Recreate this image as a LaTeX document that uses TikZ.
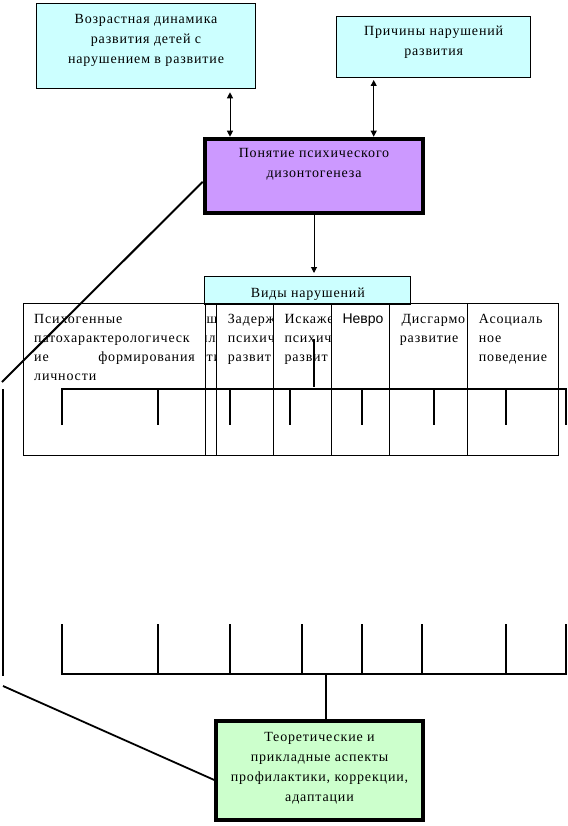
\documentclass[tikz,border=0pt]{standalone}
\usepackage{fontspec}
\setmainfont{Liberation Serif}[LetterSpace=6]
\newfontfamily\sansfont{Liberation Sans}
\usepackage{tikz}
\usetikzlibrary{arrows.meta,positioning}

\definecolor{cyanbox}{HTML}{CCFFFF}
\definecolor{lilacbox}{HTML}{CC99FF}
\definecolor{greenbox}{HTML}{CCFFCC}

\tikzset{
    box/.style={draw, line width=1pt, inner sep=0pt, anchor=north west},
    heavybox/.style={draw, line width=4pt, inner sep=0pt, anchor=north west},
    cell/.style={draw, line width=1pt, inner sep=0pt, outer sep=0pt, anchor=north west, minimum height=152},
    txt/.style={align=center, anchor=north, inner sep=0pt},
    ln/.style={anchor=base west, inner sep=0pt},
    bus/.style={line width=2.3pt},
    link/.style={line width=1pt},
    tip/.style={-{Triangle[length=6pt,width=6pt]}},
    tips/.style={{Triangle[length=6pt,width=6pt]}-{Triangle[length=6pt,width=6pt]}}
}

\begin{document}
\begin{tikzpicture}[x=1pt, y=-1pt, font=\fontsize{14}{20}\selectfont]
    \useasboundingbox (0,0) rectangle (567,826);

    % Boxes at the top
    \node[box, fill=cyanbox, minimum width=219, minimum height=85.3] (dynamics) at (36,3) {};
    \node[txt, below=11pt of dynamics.north] (dynamicstxt) {Возрастная динамика\\развития детей с\\нарушением в развитие};
    \node[box, fill=cyanbox, minimum width=194.3, minimum height=61.3] (causes) at (336,16) {};
    \node[txt, below=10pt of causes.north] (causestxt) {Причины нарушений\\развития};

    % Central concept
    \node[heavybox, fill=lilacbox, minimum width=218.6, minimum height=74.3] (concept) at (202.7,136.7) {};
    \node[txt, below=11.6pt of concept.north] (concepttxt) {Понятие психического\\дизонтогенеза};

    % Arrows to the central concept
    \coordinate (linkA) at (230,0);
    \coordinate (linkB) at (373.7,0);
    \draw[link, tips, shorten <=3pt] (dynamics.south -| linkA) -- (concept.north -| linkA);
    \draw[link, tips, shorten <=1.7pt] (causes.south -| linkB) -- (concept.north -| linkB);

    % Types of disorders
    \node[box, fill=cyanbox, minimum width=206, minimum height=28.1] (types) at (204.3,275.7) {};
    \node[txt, below=12pt of types.north] (typestxt) {Виды нарушений};
    \draw[link, tip, shorten >=2.7pt] (concept.south) -- (concept.south |- types.north);

    % Table cells
    \node[cell, minimum width=181.5] (psycho) at (23.8,303.8) {};
    \node[cell, minimum width=11] (narrow) at (psycho.north east) {};
    \node[cell, minimum width=57.2] (delay) at (narrow.north east) {};
    \node[cell, minimum width=58.2] (distort) at (delay.north east) {};
    \node[cell, minimum width=57.6] (neurosis) at (distort.north east) {};
    \node[cell, minimum width=78] (disharmony) at (neurosis.north east) {};
    \node[cell, minimum width=90.9] (asocial) at (disharmony.north east) {};

    % Texts of the cells
    \node[ln] (psychoA) at (34,323.5) {Психогенные};
    \node[ln] (psychoB) at (34,342.5) {патохарактерологическ};
    \node[ln] (psychoC) at (34,361.5) {ие};
    \node[ln, anchor=base east] (psychoD) at (195,361.5) {формирования};
    \node[ln] (psychoE) at (34,380.5) {личности};
    \begin{scope}
        \clip (narrow.north west) rectangle (narrow.south east);
        \node[ln] (narrowA) at (206.5,323.5) {ш};
        \node[ln] (narrowB) at (200,342.5) {ил};
        \node[ln] (narrowC) at (206.5,361.5) {ти};
    \end{scope}
    \begin{scope}
        \clip (delay.north west) rectangle (delay.south east);
        \node[ln] (delayA) at (227.7,323.5) {Задерж};
        \node[ln] (delayB) at (227.7,342.5) {психич};
        \node[ln] (delayC) at (227.7,361.5) {развит};
    \end{scope}
    \begin{scope}
        \clip (distort.north west) rectangle (distort.south east);
        \node[ln] (distortA) at (284.3,323.5) {Искаже};
        \node[ln] (distortB) at (284.3,342.5) {психич};
        \node[ln] (distortC) at (284.3,361.5) {развит};
    \end{scope}
    \begin{scope}
        \clip (neurosis.north west) rectangle (neurosis.south east);
        \node[ln, font=\sansfont\fontsize{14}{20}\selectfont] (neurosisA) at (342.3,323.5) {Невро};
    \end{scope}
    \begin{scope}
        \clip (disharmony.north west) rectangle (disharmony.south east);
        \node[ln] (disharmonyA) at (401.3,323.5) {Дисгармо};
        \node[ln] (disharmonyB) at (399.7,342.5) {развитие};
    \end{scope}
    \node[ln] (asocialA) at (478.7,323.5) {Асоциаль};
    \node[ln] (asocialB) at (478.7,342.5) {ное};
    \node[ln] (asocialC) at (478.7,361.5) {поведение};

    % Upper comb
    \draw[bus] (62,425) -- (62,389) -- (567,389);
    \draw[bus] (158,389) -- (158,425) (230,389) -- (230,425) (290,389) -- (290,425)
        (362,389) -- (362,425) (434,389) -- (434,425) (506,389) -- (506,425) (566,389) -- (566,425);
    \draw[line width=2pt] (314,339) -- (314,387);

    % Lower comb
    \draw[bus] (62,624) -- (62,674) -- (567,674);
    \draw[bus] (158,624) -- (158,674) (230,624) -- (230,674) (302,624) -- (302,674)
        (362,624) -- (362,674) (422,624) -- (422,674) (506,624) -- (506,674) (566,624) -- (566,674);

    % Aspects box
    \node[heavybox, fill=greenbox, minimum width=206.4, minimum height=98.4] (aspects) at (214.3,719.3) {};
    \node[txt, below=12.4pt of aspects.north] (aspectstxt) {Теоретические и\\прикладные аспекты\\профилактики, коррекции,\\адаптации};
    \coordinate (hub) at (326,674);
    \draw[line width=2pt] (hub) -- (hub |- aspects.north);

    % Lines on the left side
    \coordinate (sideTop) at (2,382);
    \coordinate (sideA) at (3,389);
    \coordinate (sideB) at (3,676);
    \coordinate (sideBot) at (3,686);
    \draw[line width=2pt] ([yshift=-6pt]concept.west) -- (sideTop);
    \draw[line width=2pt] (sideA) -- (sideB);
    \draw[line width=1.8pt] (sideBot) -- ([yshift=-9.5pt]aspects.west);
\end{tikzpicture}
\end{document}
